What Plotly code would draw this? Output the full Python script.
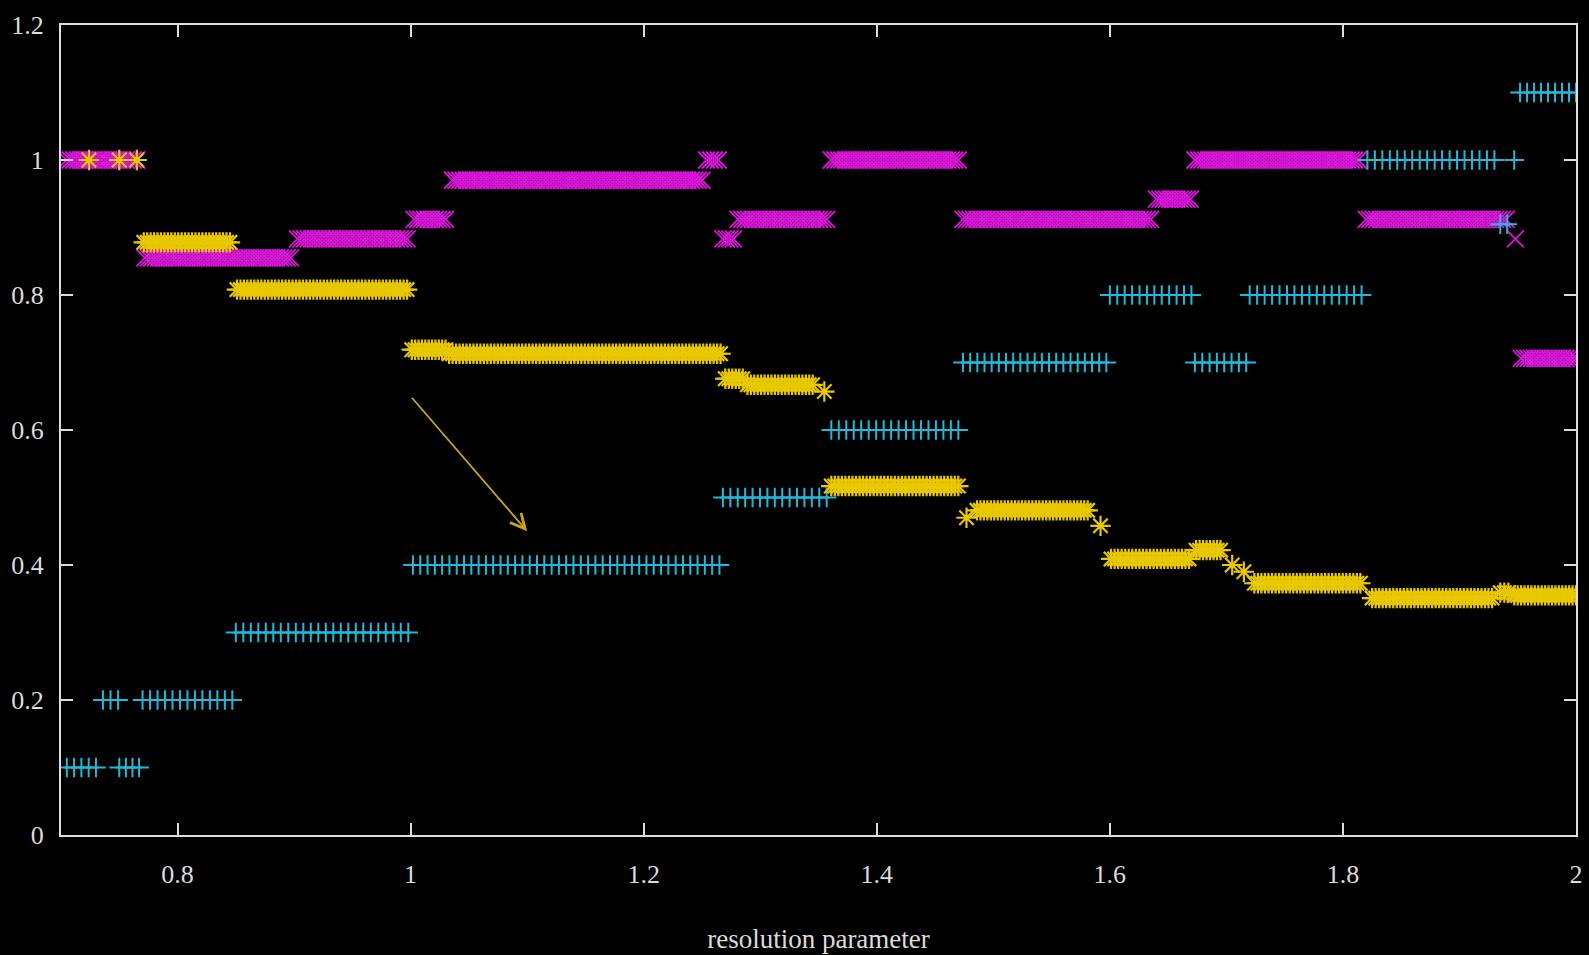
import numpy as np
import plotly.graph_objects as go

# Step values of each quantity versus the resolution parameter.
# Each entry: (first x, last x, value) -- constant runs of sampled points.
cyan_segments = [
    (0.705, 0.730, 0.10),
    (0.736, 0.749, 0.20),
    (0.750, 0.767, 0.10),
    (0.770, 0.847, 0.20),
    (0.850, 0.998, 0.30),
    (1.002, 1.265, 0.40),
    (1.268, 1.357, 0.50),
    (1.361, 1.470, 0.60),
    (1.474, 1.597, 0.70),
    (1.600, 1.670, 0.80),
    (1.673, 1.717, 0.70),
    (1.720, 1.816, 0.80),
    (1.821, 1.930, 1.00),
    (1.935, 1.941, 0.905),
    (1.947, 1.947, 1.00),
    (1.952, 2.000, 1.10),
]

magenta_segments = [
    (0.705, 0.765, 1.000),
    (0.772, 0.897, 0.855),
    (0.903, 0.997, 0.883),
    (1.003, 1.030, 0.912),
    (1.036, 1.250, 0.970),
    (1.254, 1.264, 1.000),
    (1.268, 1.277, 0.883),
    (1.281, 1.357, 0.912),
    (1.361, 1.470, 1.000),
    (1.474, 1.635, 0.912),
    (1.640, 1.669, 0.942),
    (1.673, 1.813, 1.000),
    (1.820, 1.940, 0.912),
    (1.948, 1.948, 0.883),
    (1.953, 2.000, 0.706),
]

yellow_segments = [
    (0.724, 0.724, 1.000),
    (0.750, 0.750, 1.000),
    (0.765, 0.765, 1.000),
    (0.771, 0.845, 0.878),
    (0.851, 0.997, 0.808),
    (1.001, 1.030, 0.719),
    (1.033, 1.266, 0.713),
    (1.270, 1.285, 0.676),
    (1.289, 1.345, 0.667),
    (1.355, 1.355, 0.657),
    (1.361, 1.470, 0.517),
    (1.477, 1.477, 0.470),
    (1.486, 1.581, 0.481),
    (1.592, 1.592, 0.458),
    (1.601, 1.668, 0.409),
    (1.674, 1.695, 0.422),
    (1.705, 1.705, 0.400),
    (1.715, 1.715, 0.390),
    (1.724, 1.815, 0.373),
    (1.825, 1.928, 0.351),
    (1.935, 1.942, 0.359),
    (1.947, 2.000, 0.355),
]

# Annotation arrow (tail -> head) in data coordinates
arrow_tail = (1.0, 0.65)
arrow_head = (1.1, 0.45)

x_ticks = [0.8, 1.0, 1.2, 1.4, 1.6, 1.8, 2.0]
y_ticks = [0, 0.2, 0.4, 0.6, 0.8, 1.0, 1.2]


def expand(segments, step):
    xs, ys = [], []
    for x0, x1, y in segments:
        n = max(1, int(round((x1 - x0) / step)) + 1)
        pts = np.linspace(x0, x1, n) if n > 1 else np.array([x0])
        xs.extend(pts.tolist())
        ys.extend([y] * len(pts))
    return xs, ys


CYAN = "#22b8d8"
MAGENTA = "#dc14dc"
YELLOW = "#e8c800"
AXIS = "#dcdcdc"
FONT = "Liberation Serif, Times New Roman, serif"

fig = go.Figure()

mx, my = expand(magenta_segments, 0.003)
fig.add_trace(go.Scatter(
    x=mx, y=my, mode="markers", name="magenta",
    marker=dict(symbol="x-thin", size=17, line=dict(color=MAGENTA, width=1.8)),
))

cx, cy = expand(cyan_segments, 0.0063)
fig.add_trace(go.Scatter(
    x=cx, y=cy, mode="markers", name="cyan",
    marker=dict(symbol="cross-thin", size=14, line=dict(color=CYAN, width=2)),
))

yx, yy = expand(yellow_segments, 0.003)
fig.add_trace(go.Scatter(
    x=yx, y=yy, mode="markers", name="yellow",
    marker=dict(symbol="asterisk", size=17, line=dict(color=YELLOW, width=2.2)),
))

fig.add_annotation(
    x=arrow_head[0], y=arrow_head[1], ax=arrow_tail[0], ay=arrow_tail[1],
    xref="x", yref="y", axref="x", ayref="y",
    text="", showarrow=True, arrowhead=5, arrowsize=1.6, arrowwidth=1.8,
    arrowcolor="#c8a814",
)

axis_common = dict(
    showline=True, linecolor=AXIS, linewidth=2, mirror="ticks",
    ticks="inside", ticklen=12, tickwidth=2, tickcolor=AXIS,
    showgrid=False, zeroline=False,
    tickfont=dict(family=FONT, size=26, color=AXIS),
)

fig.update_xaxes(
    range=[0.7, 2.0], tickvals=x_ticks, ticklabelstandoff=15,
    title=dict(text="resolution parameter", font=dict(family=FONT, size=27, color=AXIS),
               standoff=41),
    **axis_common,
)
fig.update_yaxes(
    range=[0, 1.2], tickvals=y_ticks, ticklabelstandoff=10,
    **axis_common,
)

fig.update_layout(
    width=1589, height=955,
    margin=dict(l=61, r=6, t=25, b=120),
    paper_bgcolor="black", plot_bgcolor="black",
    showlegend=False,
)

fig.write_html("out.html")
